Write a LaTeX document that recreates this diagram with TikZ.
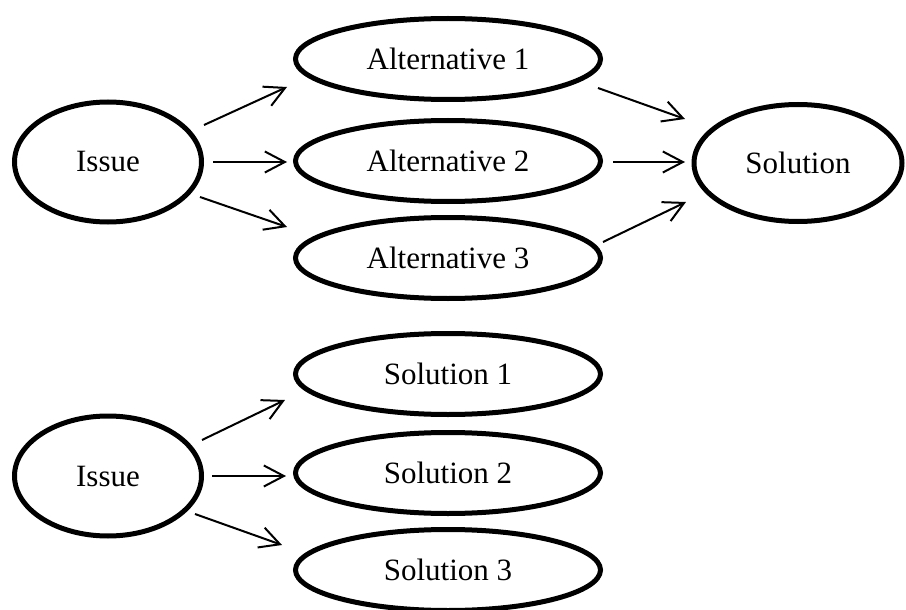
\documentclass[tikz,border=0pt]{standalone}
\usepackage{fontspec}
\setmainfont{Liberation Serif}
\usetikzlibrary{shapes.geometric,arrows.meta,calc}
\tikzset{
  oval/.style={ellipse, draw=black, line width=5pt, inner sep=0pt, font=\fontsize{31}{37}\selectfont},
  altbox/.style={oval, minimum width=305pt, minimum height=81pt},
  issuebox/.style={oval, minimum width=187pt, minimum height=120pt},
  arr/.style={line width=2pt, -{Straight Barb[length=20pt, width=21pt, line width=2pt]}}
}
\begin{document}
\begin{tikzpicture}[x=1pt, y=-1pt]
\useasboundingbox (0,0) rectangle (906,610);
\node[issuebox] (issue1) at (108,162) {Issue};
\node[altbox] (alt1) at (448,59) {Alternative 1};
\node[altbox] (alt2) at (448,161) {Alternative 2};
\node[altbox] (alt3) at (448,258) {Alternative 3};
\node[oval, minimum width=208pt, minimum height=117pt] (solution) at (798,163) {Solution};
\node[issuebox] (issue2) at (108,476) {Issue};
\node[altbox] (sol1) at (448,374) {Solution 1};
\node[altbox] (sol2) at (448,473) {Solution 2};
\node[altbox] (sol3) at (448,570) {Solution 3};

\draw[arr] ($(issue1)+(96,-37)$) -- ($(alt1)+(-161,28)$);
\draw[arr] ($(issue1)+(105,0)$) -- ($(alt2)+(-161,1)$);
\draw[arr] ($(issue1)+(92,35)$) -- ($(alt3)+(-161,-31)$);
\draw[arr] ($(alt1)+(150,29)$) -- ($(solution)+(-113,-44)$);
\draw[arr] ($(alt2)+(165,1)$) -- ($(solution)+(-113,-1)$);
\draw[arr] ($(alt3)+(155,-16)$) -- ($(solution)+(-112,39)$);
\draw[arr] ($(issue2)+(94,-36)$) -- ($(sol1)+(-163,26)$);
\draw[arr] ($(issue2)+(104,0)$) -- ($(sol2)+(-162,3)$);
\draw[arr] ($(issue2)+(87,38)$) -- ($(sol3)+(-166,-25)$);
\end{tikzpicture}
\end{document}
